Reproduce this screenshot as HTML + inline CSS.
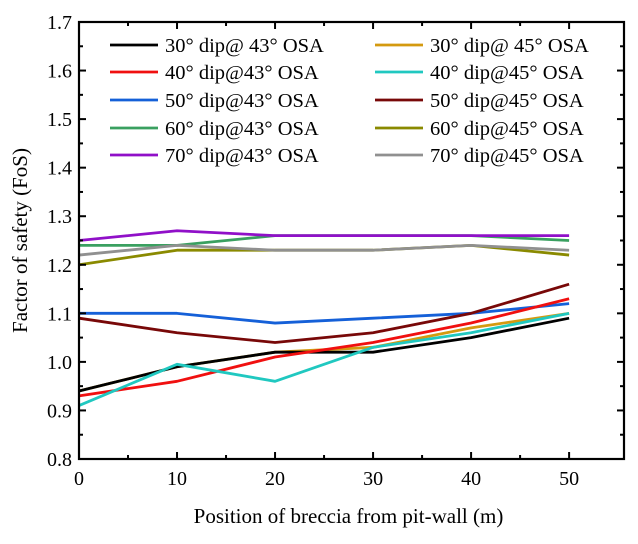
<!DOCTYPE html>
<html><head><meta charset="utf-8"><style>
body{margin:0;background:#fff;}
svg text{font-family:"Liberation Serif",serif;fill:#000;}
</style></head><body>
<svg id="chart" width="638" height="539" viewBox="0 0 638 539"></svg>
<script>
const xCats=[0,10,20,30,40,50];
const seriesNames=["30° dip@ 43° OSA","40° dip@43° OSA","50° dip@43° OSA","60° dip@43° OSA","70° dip@43° OSA","30° dip@ 45° OSA","40° dip@45° OSA","50° dip@45° OSA","60° dip@45° OSA","70° dip@45° OSA"];
const seriesColors=["#000000","#f01010","#1560d8","#3aa060","#9010c8","#d49a10","#20c8c0","#780808","#8a8a00","#909090"];
const s30_43=[0.94,0.99,1.02,1.02,1.05,1.09];
const s40_43=[0.93,0.96,1.01,1.04,1.08,1.13];
const s50_43=[1.10,1.10,1.08,1.09,1.10,1.12];
const s60_43=[1.24,1.24,1.26,1.26,1.26,1.25];
const s70_43=[1.25,1.27,1.26,1.26,1.26,1.26];
const s30_45=[0.94,0.99,1.02,1.03,1.07,1.10];
const s40_45=[0.91,0.995,0.96,1.03,1.06,1.10];
const s50_45=[1.09,1.06,1.04,1.06,1.10,1.16];
const s60_45=[1.20,1.23,1.23,1.23,1.24,1.22];
const s70_45=[1.22,1.24,1.23,1.23,1.24,1.23];
const xTicks=[0,10,20,30,40,50];
const yTicks=[0.8,0.9,1.0,1.1,1.2,1.3,1.4,1.5,1.6,1.7];
const yTickLabels=["0.8","0.9","1.0","1.1","1.2","1.3","1.4","1.5","1.6","1.7"];

const L=79,R=624,T=22,B=459,xMax=55.6,yMin=0.8,yMax=1.7;
const X=v=>L+(v/xMax)*(R-L);
const Y=v=>B-(v-yMin)/(yMax-yMin)*(B-T);
const svg=document.getElementById('chart');
const NS='http://www.w3.org/2000/svg';
function mk(tag,attrs,parent){const e=document.createElementNS(NS,tag);for(const k in attrs)e.setAttribute(k,attrs[k]);(parent||svg).appendChild(e);return e;}

const allSeries=[s30_43,s40_43,s50_43,s60_43,s70_43,s30_45,s40_45,s50_45,s60_45,s70_45];
const plotG=mk('g',{});


const drawOrder=[3,4,8,9,2,7,5,0,1,6];
drawOrder.forEach(i=>{
  const pts=allSeries[i].map((v,j)=>X(xCats[j])+','+Y(v)).join(' ');
  const p=mk('polyline',{points:pts,fill:'none',stroke:seriesColors[i],'stroke-width':2.8,'stroke-linejoin':'round'},plotG);
  
  
});

const frame=mk('rect',{x:L,y:T,width:R-L,height:B-T,fill:'none',stroke:'#000','stroke-width':2.2});



xTicks.forEach(t=>{
  mk('line',{x1:X(t),x2:X(t),y1:B,y2:B-7,stroke:'#000','stroke-width':2});
  mk('line',{x1:X(t),x2:X(t),y1:T,y2:T+7,stroke:'#000','stroke-width':2});
  if(t<50){mk('line',{x1:X(t+5),x2:X(t+5),y1:B,y2:B-4,stroke:'#000','stroke-width':2});mk('line',{x1:X(t+5),x2:X(t+5),y1:T,y2:T+4,stroke:'#000','stroke-width':2});}
  const tx=mk('text',{x:X(t),y:B+26,'text-anchor':'middle','font-size':20});
  tx.textContent=t;
  
  
});
yTicks.forEach((t,i)=>{
  mk('line',{x1:L,x2:L+7,y1:Y(t),y2:Y(t),stroke:'#000','stroke-width':2});
  mk('line',{x1:R,x2:R-7,y1:Y(t),y2:Y(t),stroke:'#000','stroke-width':2});
  if(i<yTicks.length-1){mk('line',{x1:L,x2:L+4,y1:Y(t+0.05),y2:Y(t+0.05),stroke:'#000','stroke-width':2});mk('line',{x1:R,x2:R-4,y1:Y(t+0.05),y2:Y(t+0.05),stroke:'#000','stroke-width':2});}
  const tx=mk('text',{x:L-7,y:Y(t)+7,'text-anchor':'end','font-size':20});
  tx.textContent=yTickLabels[i];
  
  
});

const xt=mk('text',{x:(L+R)/2-3,y:523,'text-anchor':'middle','font-size':21});
xt.textContent='Position of breccia from pit-wall (m)';


const yt=mk('text',{x:0,y:0,'text-anchor':'middle','font-size':21,transform:'translate(27,'+((T+B)/2)+') rotate(-90)'});
yt.textContent='Factor of safety (FoS)';



const lg=mk('g',{});


const rowsY=[45,72,100,128,155];
seriesNames.forEach((n,i)=>{
  const col=i<5?0:1,row=i%5;
  const lx=col?375:110;
  const g=mk('g',{},lg);
  
  
  mk('line',{x1:lx,x2:lx+48,y1:rowsY[row],y2:rowsY[row],stroke:seriesColors[i],'stroke-width':2.8},g);
  const t=mk('text',{x:lx+55,y:rowsY[row]+7,'font-size':20.5},g);
  t.textContent=n;
});
</script>
</body></html>
